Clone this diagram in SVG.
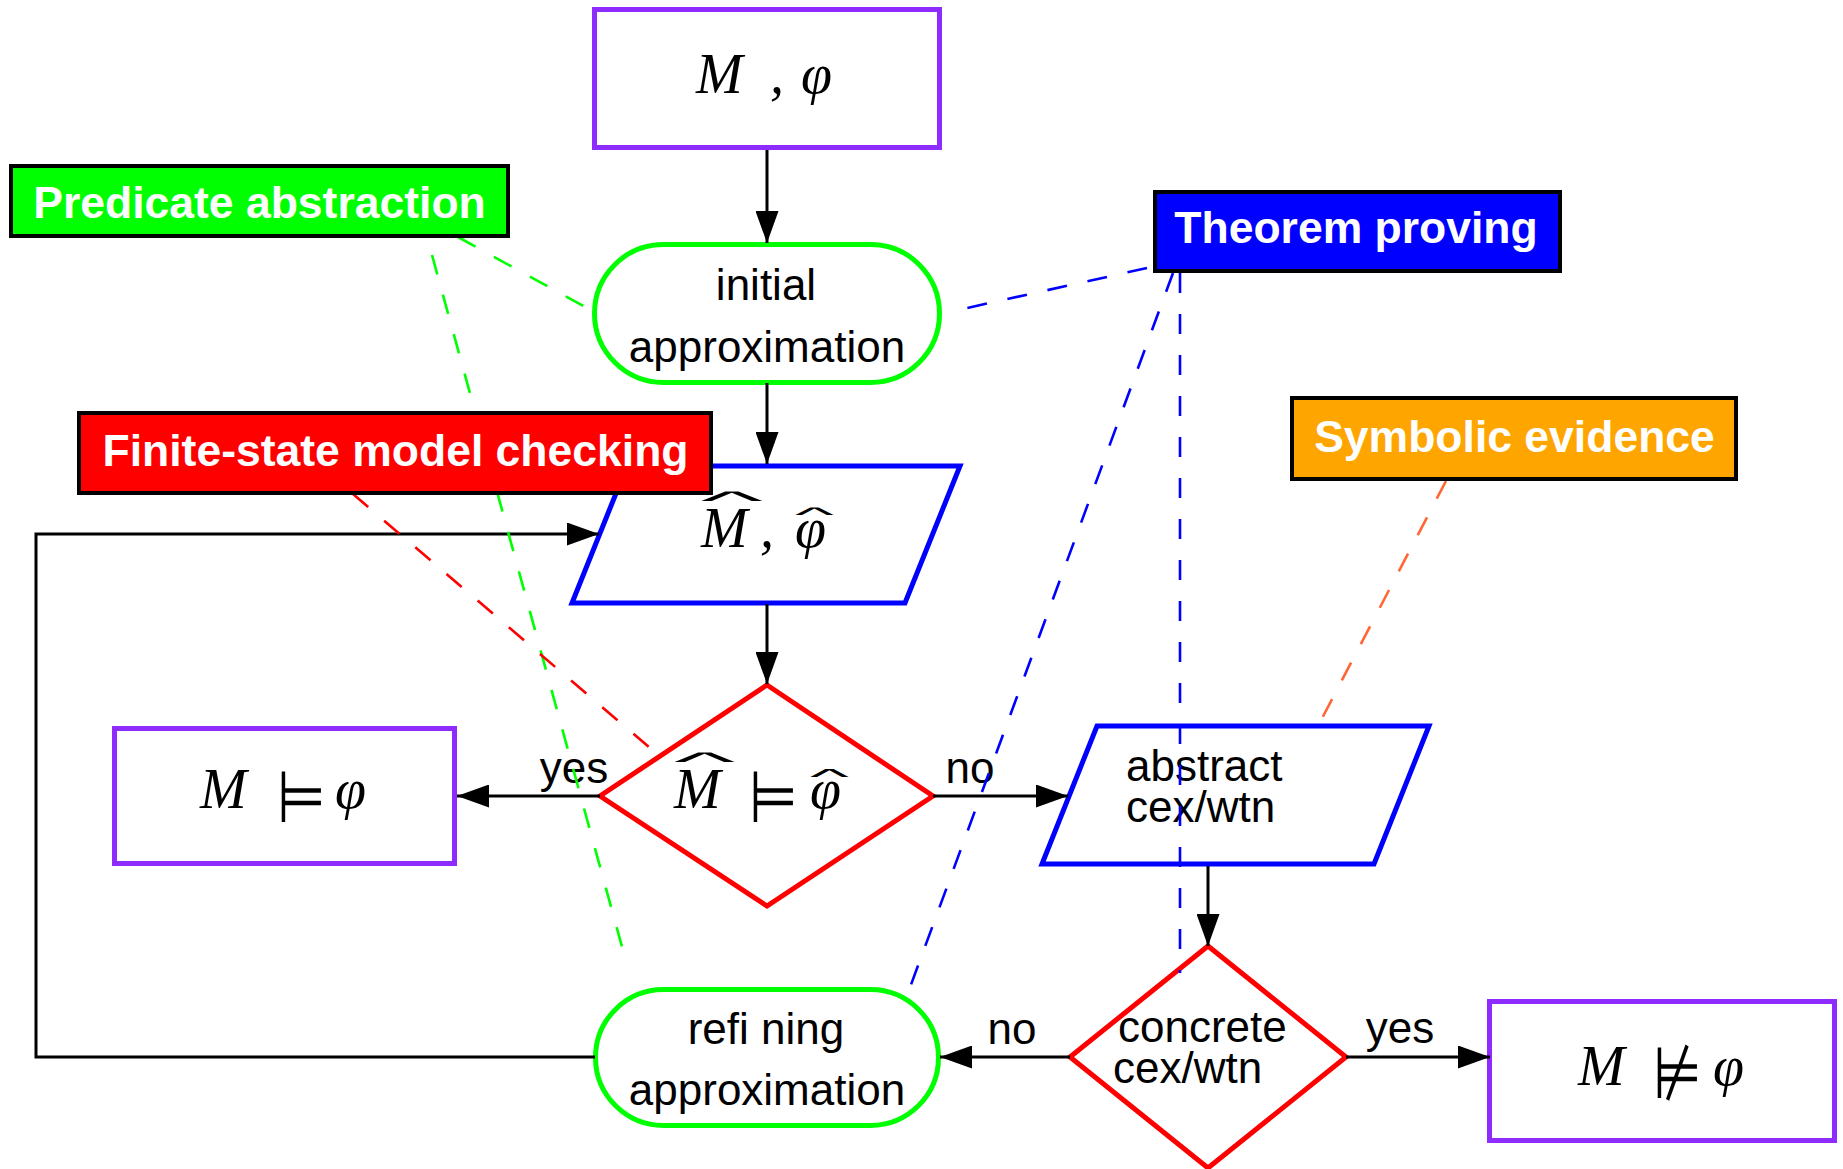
<svg xmlns="http://www.w3.org/2000/svg" width="1843" height="1169" viewBox="0 0 1843 1169">
<defs>
<style>
.res{fill:#fff;stroke:#8e2cff;stroke-width:5}
.term{fill:#fff;stroke:#00ff00;stroke-width:5}
.io{fill:#fff;stroke:#0000ff;stroke-width:5}
.dec{fill:#fff;stroke:#ff0000;stroke-width:5}
.tag{stroke:#000;stroke-width:4}
.tagt{font-family:"Liberation Sans",Arial,sans-serif;font-weight:bold;font-size:44.5px;fill:#fff;text-anchor:middle}
.lbl{font-family:"Liberation Sans",Arial,sans-serif;font-size:44px;fill:#000}
.mid{text-anchor:middle}
.math{font-family:"Liberation Serif","Times New Roman",serif;font-style:italic;font-size:56px;fill:#000}
.hat{font-family:"Liberation Sans",Arial,sans-serif;font-size:56px;fill:#000;text-anchor:middle}
.rel{font-family:"DejaVu Sans",sans-serif;font-size:56px;fill:#000}
.edge{fill:none;stroke:#000;stroke-width:3}
.dash{fill:none;stroke-width:2.6;stroke-dasharray:20 21}
</style>
<marker id="ah" viewBox="0 0 32 23" refX="32" refY="11.5" markerWidth="32" markerHeight="23" markerUnits="userSpaceOnUse" orient="auto">
<path d="M0,0 L32,11.5 L0,23 z" fill="#000"/>
</marker>
</defs>
<rect width="1843" height="1169" fill="#fff"/>

<g id="input">
<rect class="res" x="594.5" y="9.5" width="345" height="138"/>
<text class="math" y="93"><tspan x="696">M</tspan><tspan x="770">,</tspan><tspan x="801">φ</tspan></text>
</g>

<g id="initial">
<rect class="term" x="594.5" y="244.5" width="345" height="138" rx="69"/>
<text class="lbl mid" x="766" y="300">initial</text>
<text class="lbl mid" x="767" y="362">approximation</text>
</g>

<g id="abstraction">
<polygon class="io" points="627,466 960,466 905,603 572,603"/>
<text class="hat" transform="translate(732,510) scale(2.37,0.46)">^</text>
<text class="hat" transform="translate(814.5,522) scale(1.48,0.37)">^</text>
<text class="math" y="547"><tspan x="701">M</tspan><tspan x="760">,</tspan><tspan x="795">φ</tspan></text>
</g>

<g id="check">
<polygon class="dec" points="767,685 933,796 767,906 600,796"/>
<text class="hat" transform="translate(704.5,771) scale(2.33,0.46)">^</text>
<text class="hat" transform="translate(829.5,784) scale(1.48,0.4)">^</text>
<text class="math" y="808"><tspan x="674">M</tspan></text>
<text class="rel" transform="translate(749,822) scale(1,1.29)">⊨</text>
<text class="math" y="808"><tspan x="810">φ</tspan></text>
</g>

<g id="holds">
<rect class="res" x="114.5" y="728.5" width="340" height="135"/>
<text class="math" y="808"><tspan x="200">M</tspan></text>
<text class="rel" transform="translate(277,822) scale(1,1.29)">⊨</text>
<text class="math" y="808"><tspan x="335">φ</tspan></text>
</g>

<g id="cex">
<polygon class="io" points="1097,726 1429,726 1374,864 1042,864"/>
<text class="lbl" x="1126" y="781">abstract</text>
<text class="lbl" x="1126" y="822">cex/wtn</text>
</g>

<g id="concrete">
<polygon class="dec" points="1208,946 1346,1057 1208,1168 1070,1057"/>
<text class="lbl" x="1118" y="1042">concrete</text>
<text class="lbl" x="1113" y="1083">cex/wtn</text>
</g>

<g id="refining">
<rect class="term" x="595.5" y="989.5" width="343" height="136" rx="68"/>
<text class="lbl mid" x="766" y="1044">refi ning</text>
<text class="lbl mid" x="767" y="1105">approximation</text>
</g>

<g id="fails">
<rect class="res" x="1489.5" y="1001.5" width="345" height="139"/>
<text class="math" y="1085"><tspan x="1578">M</tspan></text>
<text class="rel" transform="translate(1653,1098) scale(1,1.29)">⊭</text>
<text class="math" y="1085"><tspan x="1713">φ</tspan></text>
</g>

<g id="connectors">
<path class="edge" d="M767,150 V243" marker-end="url(#ah)"/>
<path class="edge" d="M767,383 V464" marker-end="url(#ah)"/>
<path class="edge" d="M767,604 V684" marker-end="url(#ah)"/>
<path class="edge" d="M600,796 H457" marker-end="url(#ah)"/>
<path class="edge" d="M933,796 H1068" marker-end="url(#ah)"/>
<path class="edge" d="M1208,866 V946" marker-end="url(#ah)"/>
<path class="edge" d="M1070,1057 H940" marker-end="url(#ah)"/>
<path class="edge" d="M1346,1057 H1490" marker-end="url(#ah)"/>
<path class="edge" d="M595,1057 H36 V534 H599" marker-end="url(#ah)"/>
<text class="lbl mid" x="574" y="783">yes</text>
<text class="lbl mid" x="970" y="783">no</text>
<text class="lbl mid" x="1012" y="1044">no</text>
<text class="lbl mid" x="1400" y="1043">yes</text>
</g>

<g id="annotations">
<path class="dash" stroke="#00ff00" d="M458,237 L587,308"/>
<path class="dash" stroke="#00ff00" d="M432,255 L624,954"/>
<path class="dash" stroke="#0000ff" d="M1147,268 L958,310"/>
<path class="dash" stroke="#0000ff" d="M1173,273 L905,1001"/>
<path class="dash" stroke="#0000ff" d="M1180,273 V973"/>
<path class="dash" stroke="#ff0000" d="M353,494 L650,748"/>
<path class="dash" stroke="#ff6633" d="M1446,481 L1318,726"/>
</g>

<g id="tag-predicate">
<rect class="tag" x="11" y="166" width="497" height="70" fill="#00ff00"/>
<text class="tagt" x="259.5" y="218">Predicate abstraction</text>
</g>
<g id="tag-theorem">
<rect class="tag" x="1155" y="192" width="405" height="79" fill="#0000ff"/>
<text class="tagt" x="1356" y="243">Theorem proving</text>
</g>
<g id="tag-finite">
<rect class="tag" x="79" y="413" width="632" height="80" fill="#ff0000"/>
<text class="tagt" x="395.5" y="466">Finite-state model checking</text>
</g>
<g id="tag-symbolic">
<rect class="tag" x="1292" y="398" width="444" height="81" fill="#ffa500"/>
<text class="tagt" x="1514.5" y="452">Symbolic evidence</text>
</g>
</svg>
